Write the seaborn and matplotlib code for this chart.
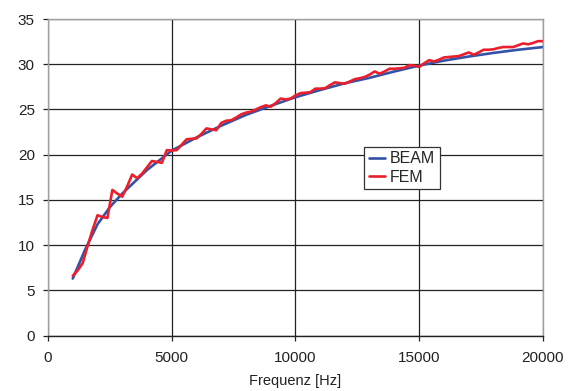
import pandas as pd
import matplotlib
matplotlib.use("Agg")
import matplotlib.pyplot as plt
import seaborn as sns

# BEAM model (smooth curve)
beam_freq = [1000, 1500, 2000, 2500, 3000, 4000, 5000, 6000, 7000, 8000, 9000, 10000,
             11000, 12000, 13000, 14000, 15000, 16000, 17000, 18000, 19000, 20000]
beam_val = [6.3, 9.5, 12.3, 14.2, 15.7, 18.3, 20.45, 21.9, 23.2, 24.4, 25.4, 26.35,
            27.15, 27.9, 28.5, 29.2, 29.85, 30.4, 30.85, 31.25, 31.6, 31.9]

# FEM results, 200 Hz steps from 1000 to 20000 Hz
fem_freq = list(range(1000, 20001, 200))
fem_val = [6.6, 7.2, 8.0, 9.9, 11.7, 13.3, 13.1, 13.0, 16.1, 15.7,
           15.35, 16.5, 17.8, 17.4, 17.9, 18.6, 19.3, 19.2, 19.1, 20.5,
           20.45, 20.5, 21.1, 21.7, 21.75, 21.8, 22.3, 22.9, 22.8, 22.7,
           23.5, 23.75, 23.8, 24.1, 24.45, 24.65, 24.75, 25.0, 25.25, 25.45,
           25.3, 25.7, 26.2, 26.1, 26.2, 26.55, 26.8, 26.85, 26.9, 27.3,
           27.3, 27.35, 27.7, 28.0, 27.9, 27.85, 28.1, 28.35, 28.45, 28.6,
           28.85, 29.2, 28.95, 29.2, 29.5, 29.5, 29.55, 29.6, 29.9, 29.85,
           29.7, 30.1, 30.45, 30.3, 30.5, 30.75, 30.8, 30.85, 30.9, 31.1,
           31.3, 31.05, 31.3, 31.6, 31.6, 31.65, 31.8, 31.9, 31.9, 31.9,
           32.1, 32.3, 32.2, 32.35, 32.55, 32.55]

x_ticks = [0, 5000, 10000, 15000, 20000]
y_ticks = [0, 5, 10, 15, 20, 25, 30, 35]

beam = pd.DataFrame({"f": beam_freq, "v": beam_val})
fem = pd.DataFrame({"f": fem_freq, "v": fem_val})

sns.set_style("white")
plt.rcParams["font.family"] = ["Liberation Sans", "DejaVu Sans"]

fig = plt.figure(figsize=(5.73, 3.91), dpi=100)
ax = fig.add_axes([0.0838, 0.1419, 0.8638, 0.8095])

sns.lineplot(data=beam, x="f", y="v", ax=ax, color="#3351a6", linewidth=1.9, label="BEAM")
sns.lineplot(data=fem, x="f", y="v", ax=ax, color="#ea1f2b", linewidth=1.9, label="FEM")

ax.set_xlim(0, 20000)
ax.set_ylim(0, 35)
ax.set_xticks(x_ticks)
ax.set_yticks(y_ticks)
ax.grid(True, color="#222222", linewidth=0.9)
ax.set_axisbelow(True)
ax.tick_params(axis="both", direction="out", length=3.5, width=0.9, colors="#222222",
               labelsize=11, labelcolor="#222222", bottom=True, left=True)
ax.tick_params(axis="x", pad=8)
ax.tick_params(axis="y", pad=6)

for side in ["top", "right", "left"]:
    ax.spines[side].set_color("#a0a0a0")
    ax.spines[side].set_linewidth(1.0)
ax.spines["bottom"].set_color("#222222")
ax.spines["bottom"].set_linewidth(1.0)

ax.set_xlabel("Frequenz [Hz]", fontsize=10.5, color="#222222", labelpad=6)
ax.set_ylabel("")

leg = ax.legend(loc="upper left", bbox_to_anchor=(0.638, 0.597), borderaxespad=0,
                fontsize=11.5, frameon=True, fancybox=False, handlelength=1.05,
                handletextpad=0.3, borderpad=0.3, labelspacing=0.2)
leg.get_frame().set_edgecolor("#333333")
leg.get_frame().set_linewidth(0.9)
leg.get_frame().set_alpha(1)

fig.savefig("out.png", dpi=100)
